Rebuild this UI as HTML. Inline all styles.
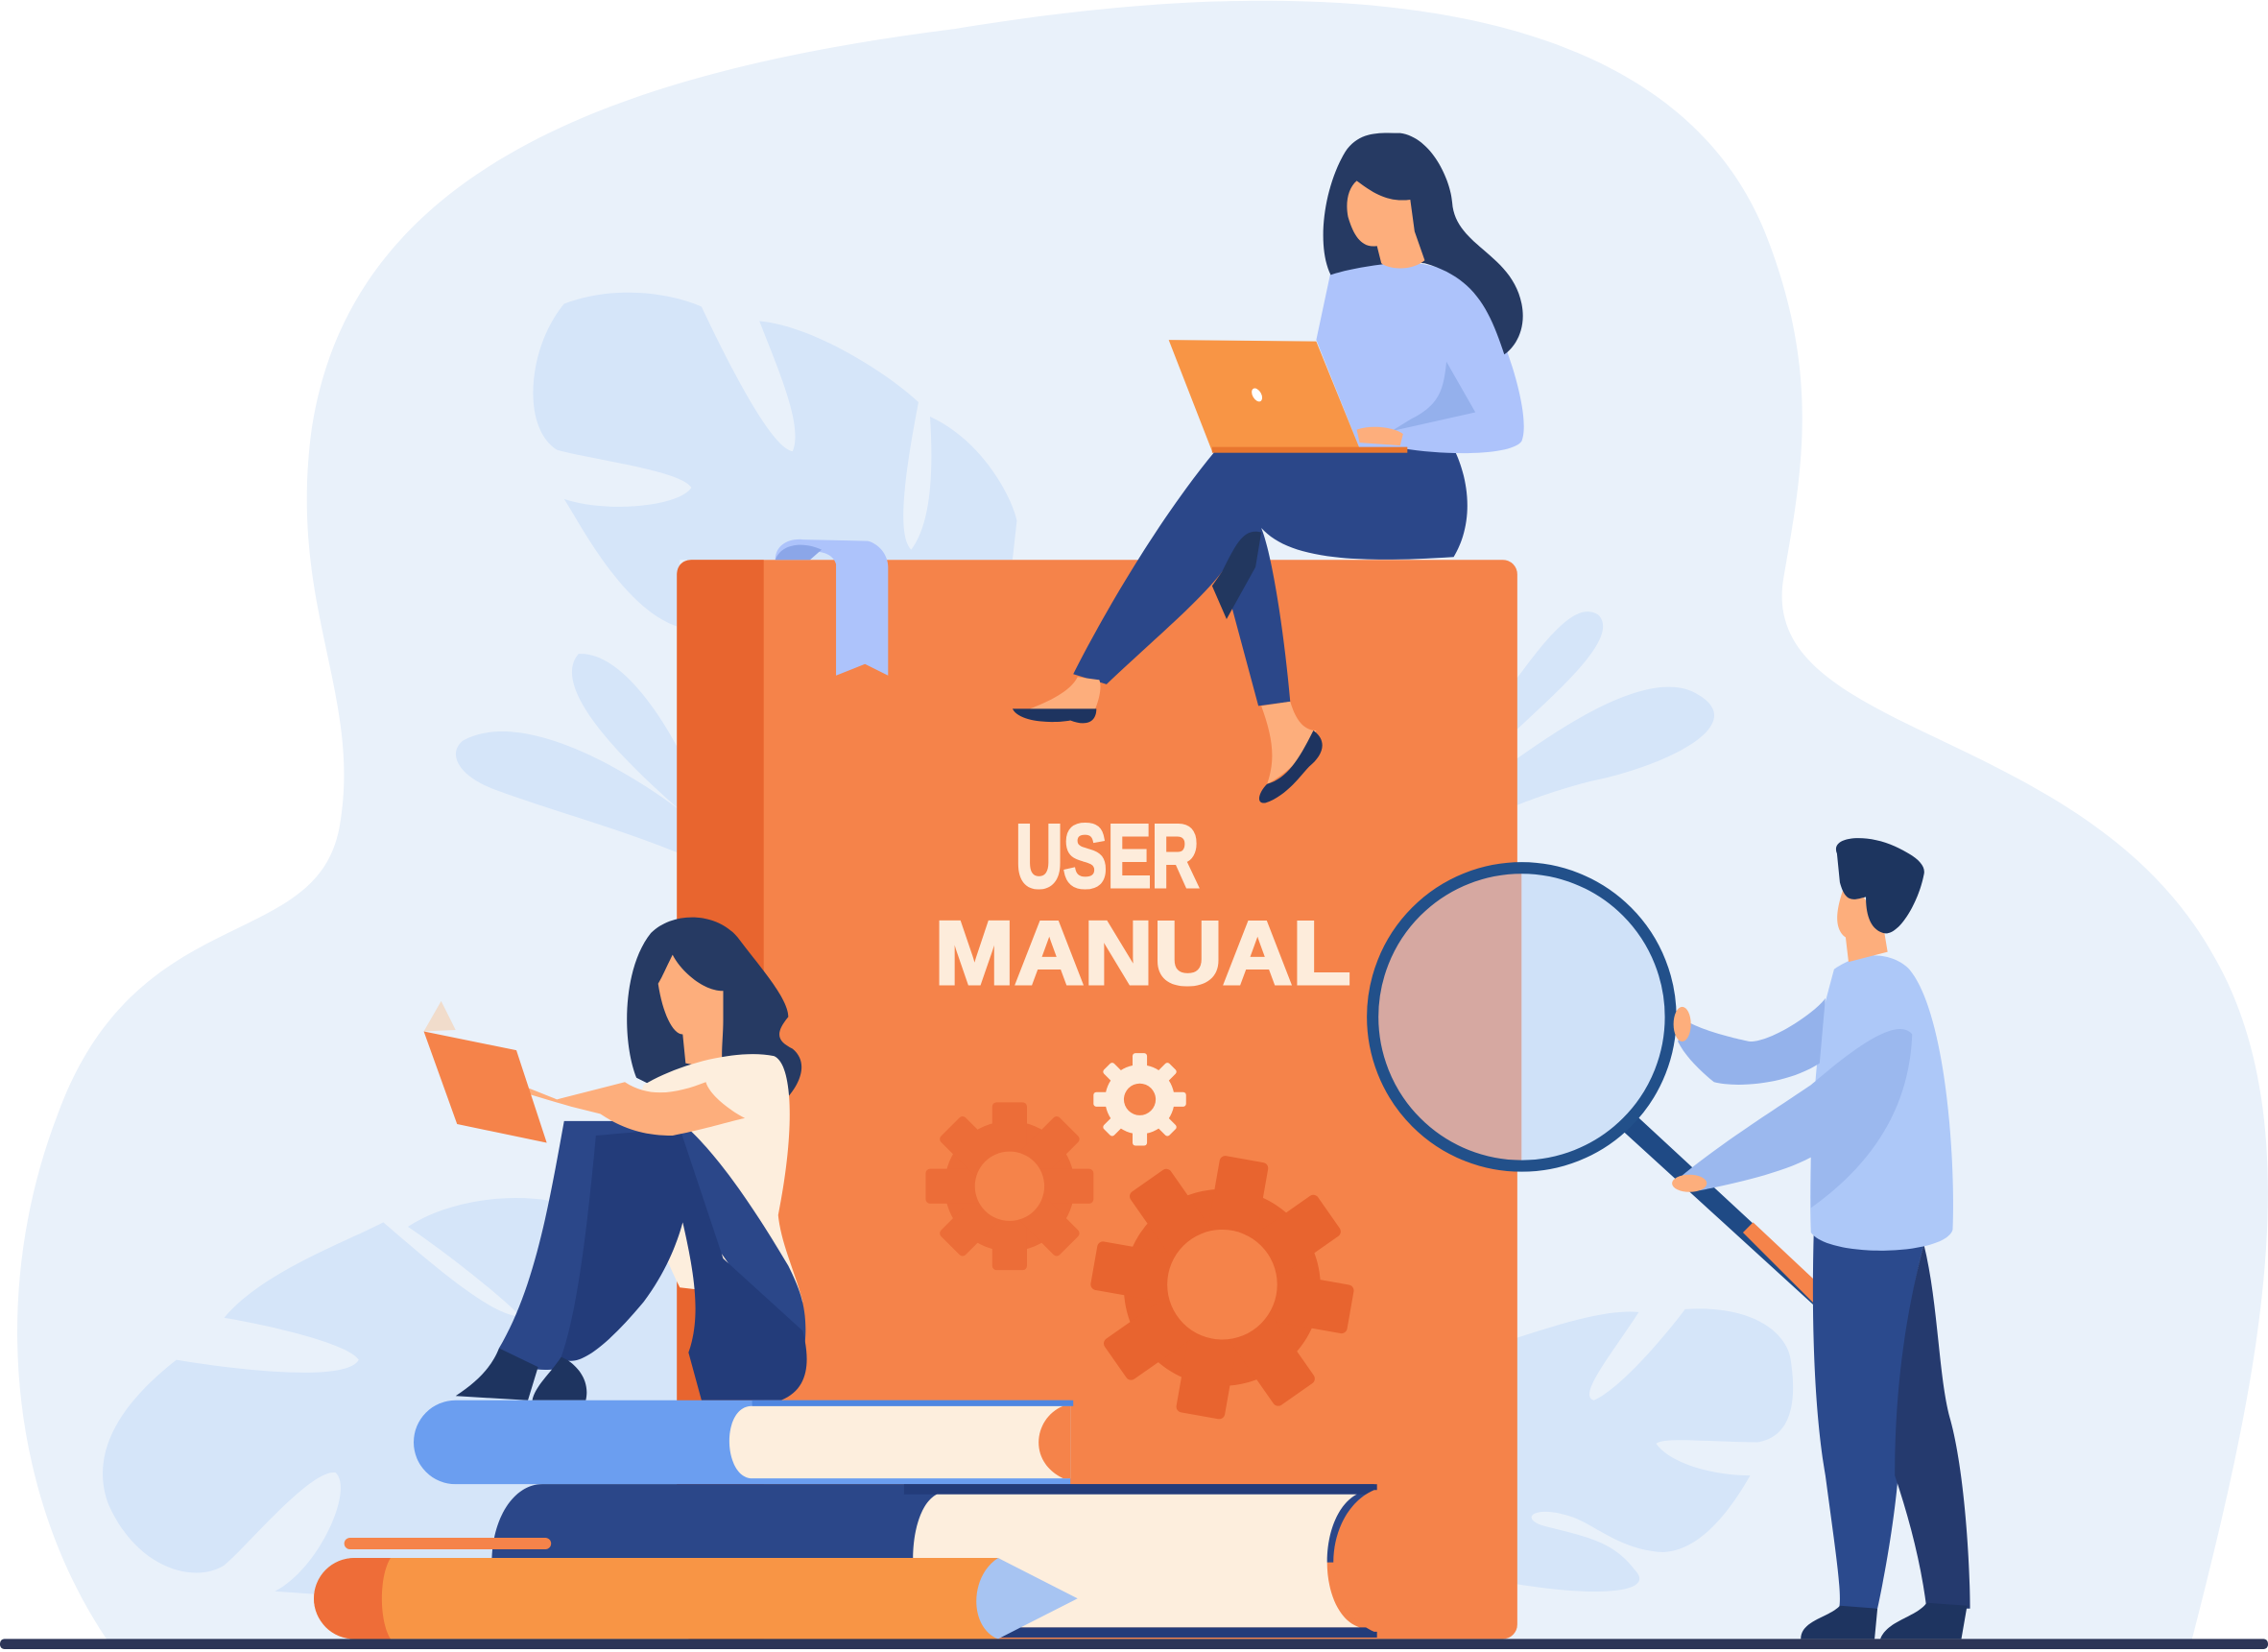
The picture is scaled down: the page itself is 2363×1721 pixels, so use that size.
<!DOCTYPE html>
<html><head><meta charset="utf-8"><style>html,body{margin:0;padding:0;background:#fff}svg{display:block}</style></head>
<body>
<svg width="2363" height="1721" viewBox="0 0 1568 1142" preserveAspectRatio="none" xmlns="http://www.w3.org/2000/svg">
<rect width="1568" height="1142" fill="#fff"/>
<path d="M75 1135 C10 1040 -10 900 40 770 C95 620 220 660 235 570 C250 480 200 420 215 300 C240 120 420 50 660 20 C900 -20 1150 -10 1220 160 C1260 260 1245 330 1233 400 C1215 510 1440 500 1530 660 C1600 780 1560 960 1515 1135 Z" fill="#e9f1fa"/>
<g fill="#d5e5f9">
<path d="M390 210 C430 195 470 205 485 212 C510 265 535 310 548 312 C555 295 540 260 525 222 C560 225 610 255 635 278 C625 330 620 370 630 380 C645 360 645 320 643 288 C680 305 700 345 703 360 L700 387 L470 387 L468 433 C430 420 400 360 390 345 C420 355 470 350 478 337 C470 325 410 318 385 311 C360 295 365 240 390 210Z"/>
<path d="M400 452 C430 450 460 500 470 520 L470 560 C430 525 380 475 400 452Z"/>
<path d="M320 512 C360 490 430 530 470 560 L470 590 C420 570 380 560 340 545 C315 535 310 520 320 512Z"/>
<path d="M1048 470 C1070 440 1090 415 1105 425 C1120 440 1080 475 1048 505Z"/>
<path d="M1048 525 C1090 495 1140 465 1170 478 C1215 500 1150 530 1100 540 C1080 545 1060 552 1048 557Z"/>
<path d="M265 845 C300 875 340 910 360 910 C340 890 300 860 282 848 C310 830 350 825 380 830 L470 840 L470 1120 L190 1100 C220 1085 245 1030 232 1018 C215 1015 170 1070 155 1082 C135 1095 95 1085 75 1040 C60 1000 90 965 122 940 C170 948 240 955 248 940 C240 928 180 915 155 911 C180 880 240 858 265 845Z"/>
<path d="M1048 925 C1080 915 1110 905 1133 907 C1115 935 1090 965 1102 968 C1120 960 1150 925 1165 905 C1210 902 1235 920 1238 940 C1245 985 1228 995 1215 997 C1185 997 1150 993 1145 998 C1155 1012 1185 1020 1210 1020 C1190 1055 1170 1072 1150 1073 C1120 1072 1100 1052 1085 1048 C1060 1040 1050 1050 1068 1055 C1095 1062 1115 1065 1130 1085 C1145 1100 1110 1105 1048 1095Z"/>
</g>
<rect x="468" y="387" width="581" height="746" rx="10" fill="#f5834a"/>
<path d="M478 387 L528 387 L528 1133 L478 1133 C472 1133 468 1128 468 1122 L468 397 C468 391 472 387 478 387Z" fill="#e8652f"/>
<path d="M536 387 C536 377 545 372 555 373 L600 374 C608 376 614 384 614 392 L614 467 L598 459 L578 467 L578 390 C575 380 560 378 536 387Z" fill="#adc3fb"/>
<path d="M536 387 C540 376 555 374 568 380 L560 387Z" fill="#8ba6e8"/>
<g fill="#fdecdb" stroke="#fdecdb" stroke-width="2" font-family="Liberation Sans, sans-serif" font-weight="bold">
<text x="702" y="613" font-size="62" textLength="127" lengthAdjust="spacingAndGlyphs">USER</text>
<text x="646" y="680" font-size="62" textLength="288" lengthAdjust="spacingAndGlyphs">MANUAL</text>
</g>
<g>
<circle cx="788" cy="760" r="24" fill="#fdecdb"/>
<g fill="#fdecdb"><rect x="783" y="728" width="10" height="64" rx="2"/><rect x="783" y="728" width="10" height="64" rx="2" transform="rotate(45 788 760)"/><rect x="783" y="728" width="10" height="64" rx="2" transform="rotate(90 788 760)"/><rect x="783" y="728" width="10" height="64" rx="2" transform="rotate(135 788 760)"/></g>
<circle cx="788" cy="760" r="11" fill="#f5834a"/>
<circle cx="698" cy="820" r="45" fill="#ec6d38"/>
<g fill="#ec6d38"><rect x="686" y="762" width="24" height="116" rx="3"/><rect x="686" y="762" width="24" height="116" rx="3" transform="rotate(45 698 820)"/><rect x="686" y="762" width="24" height="116" rx="3" transform="rotate(90 698 820)"/><rect x="686" y="762" width="24" height="116" rx="3" transform="rotate(135 698 820)"/></g>
<circle cx="698" cy="820" r="24" fill="#f5834a"/>
<circle cx="845" cy="890" r="68" fill="#e8642f"/>
<g fill="#e8642f"><rect x="828" y="800" width="34" height="180" rx="4" transform="rotate(10 845 890)"/><rect x="828" y="800" width="34" height="180" rx="4" transform="rotate(55 845 890)"/><rect x="828" y="800" width="34" height="180" rx="4" transform="rotate(100 845 890)"/><rect x="828" y="800" width="34" height="180" rx="4" transform="rotate(145 845 890)"/></g>
<circle cx="845" cy="888" r="38" fill="#f5834a"/>
</g>
<path d="M1120 780 L1268 915 L1276 905 L1130 770Z" fill="#1f4a85"/>
<path d="M1205 852 L1268 915 L1276 905 L1212 845Z" fill="#f5834a"/>
<path d="M1052 603 A100 100 0 0 0 1052 803Z" fill="#d6a8a1"/>
<path d="M1052 603 A100 100 0 0 1 1052 803Z" fill="#cfe1f8"/>
<circle cx="1052" cy="703" r="103" fill="none" stroke="#22508a" stroke-width="8"/>
<path d="M1254 850 C1252 920 1255 980 1262 1020 C1270 1080 1275 1110 1270 1115 L1298 1112 C1305 1080 1315 1020 1313 990 C1310 960 1320 900 1330 860Z" fill="#2b4a8d"/>
<path d="M1330 860 C1340 900 1340 950 1348 980 C1358 1015 1362 1080 1362 1112 L1332 1112 C1328 1080 1320 1050 1310 1020 C1310 950 1320 900 1330 860Z" fill="#253a6e"/>
<path d="M1245 1133 C1245 1120 1265 1118 1272 1110 L1298 1112 L1296 1133Z M1300 1133 C1305 1120 1325 1118 1332 1108 L1360 1110 L1356 1133Z" fill="#1e3460"/>
<path d="M1268 670 C1290 655 1310 660 1320 670 C1345 700 1352 800 1350 850 C1345 868 1265 870 1252 852 C1250 800 1255 740 1260 700Z" fill="#adc8f8"/>
<path d="M1165 705 C1175 712 1200 718 1210 720 C1225 720 1255 700 1262 690 L1258 735 C1235 750 1200 752 1185 748 C1175 740 1165 730 1160 720Z" fill="#94b2eb"/>
<path d="M1160 815 C1190 790 1230 765 1252 750 C1270 735 1310 700 1322 715 C1320 770 1290 808 1252 835 L1252 800 C1230 812 1190 820 1175 823Z" fill="#9bb8ee"/>
<ellipse cx="1168" cy="818" rx="12" ry="6" fill="#fdae7c"/><ellipse cx="1163" cy="708" rx="6" ry="12" fill="#fdae7c"/>
<path d="M1278 605 C1272 620 1265 640 1276 648 L1278 665 L1305 658 L1302 640Z" fill="#fdae7c"/>
<path d="M1270 590 C1265 578 1290 576 1310 585 C1325 592 1332 598 1330 605 C1326 625 1312 648 1302 645 C1292 642 1290 630 1290 620 C1282 622 1276 625 1272 610Z" fill="#1d355f"/>
<path d="M840 312 C800 360 760 430 742 466 L765 473 C800 440 830 415 845 395 L870 488 L892 485 C888 440 880 385 872 365 C890 385 930 390 1005 385 C1020 360 1015 330 1005 310Z" fill="#2b4789"/>
<path d="M838 405 L845 395 C855 375 860 365 872 368 L868 392 L848 428Z" fill="#22375f"/>
<path d="M745 468 C740 478 725 485 712 490 L755 495 C760 485 762 475 760 470Z" fill="#fdae7c"/>
<path d="M700 490 C705 500 730 500 740 498 C750 502 758 500 758 490 L712 490Z" fill="#1e3460"/>
<path d="M872 488 C880 510 882 525 876 542 C890 535 905 520 910 505 C900 505 895 495 892 485Z" fill="#fdae7c"/>
<path d="M876 542 C870 548 868 556 875 555 C890 550 900 535 905 530 C915 522 918 512 908 505 C898 525 890 538 876 542Z" fill="#1e3460"/>
<path d="M920 188 C950 175 995 180 1018 195 C1035 215 1060 285 1052 305 C1045 315 1000 315 970 310 L940 310 L910 235Z" fill="#adc3fb"/>
<path d="M1000 250 C998 270 995 280 975 290 L962 298 L1020 285 Z" fill="#94b0ec"/>
<path d="M938 297 C950 293 965 296 970 300 L968 308 L940 306Z" fill="#fdae7c"/>
<path d="M808 235 L910 236 L940 310 L838 312Z" fill="#f89545"/>
<rect x="838" y="309" width="135" height="4" fill="#e8762f"/>
<ellipse cx="869" cy="273" rx="3" ry="5" fill="#fff" transform="rotate(-30 869 273)"/>
<path d="M920 190 C910 170 915 130 930 105 C940 90 955 92 968 92 C990 95 1003 125 1004 140 C1006 170 1045 175 1052 210 C1056 230 1045 242 1040 245 C1030 215 1020 192 985 182 C965 180 935 185 920 190Z" fill="#263a63"/>
<path d="M938 125 C950 134 960 140 975 138 L978 160 L985 180 C975 188 960 186 955 182 L952 170 C940 172 935 160 932 150 C930 140 932 130 938 125Z" fill="#fdae7c"/>
<path d="M440 745 C430 720 430 670 450 645 C465 630 495 630 510 648 C525 668 545 690 545 703 C535 715 538 720 548 725 C560 735 552 750 545 758 L470 760Z" fill="#263a63"/>
<path d="M455 680 C458 700 465 715 472 715 L474 735 L500 740 C498 730 500 718 500 705 L500 685 C485 685 470 670 465 660 C460 670 458 675 455 680Z" fill="#fdae7c"/>
<path d="M445 750 C470 735 510 725 535 730 C548 735 550 780 538 840 C540 860 550 880 555 900 L470 890 C450 850 430 790 445 750Z" fill="#fdeedd"/>
<path d="M390 775 C380 830 370 890 345 932 C350 945 375 950 390 945 C420 900 440 850 460 820 C490 850 515 890 535 920 C540 940 545 960 555 940 C560 910 555 895 545 875 C530 850 500 800 470 775 Z" fill="#2b4789"/>
<path d="M412 785 C405 860 398 910 388 938 C398 948 420 930 445 900 C460 880 468 860 472 845 C480 880 485 910 476 935 L485 968 L540 968 C560 960 560 940 555 920 L500 870 L470 780Z" fill="#233c7a"/>
<path d="M345 932 C340 945 330 955 315 965 L365 968 L372 945Z M388 938 C380 950 370 958 368 968 L405 968 C408 955 400 945 392 940Z" fill="#1e3460"/>
<path d="M310 740 C340 748 370 758 395 765 L415 770 C430 780 445 785 465 785 C490 780 505 775 515 773 C500 765 490 755 488 748 C470 755 450 760 432 748 L385 760 C365 752 340 742 320 735Z" fill="#fdae7c"/>
<path d="M293 713 L357 726 L378 790 L316 777Z" fill="#f5834a"/>
<path d="M293 713 L305 692 L315 712Z" fill="#f1dccb"/>
<path d="M315 968 L740 968 L740 1026 L315 1026 A29 29 0 0 1 315 968Z" fill="#6b9ef0"/>
<path d="M520 972 L740 972 L740 1022 L520 1022 C500 1022 498 972 520 972Z" fill="#fdeedd"/>
<path d="M735 972 C715 980 710 1010 735 1022 L740 1022 L740 972Z" fill="#f5834a"/>
<rect x="520" y="968" width="222" height="4" fill="#4f86e0"/>
<path d="M375 1026 L950 1026 L950 1080 L340 1080 C340 1050 355 1026 375 1026Z" fill="#2b4789"/>
<path d="M650 1032 L940 1032 C910 1045 910 1115 940 1125 L650 1125 C625 1115 625 1040 650 1032Z" fill="#fdeedd"/>
<rect x="625" y="1026" width="327" height="7" fill="#233c7a"/>
<rect x="625" y="1125" width="327" height="7" fill="#233c7a"/>
<path d="M950 1030 C915 1045 910 1110 950 1128 L1000 1128 L1000 1030Z" fill="#f5834a"/>
<path d="M245 1077 L690 1077 L740 1105 L690 1133 L245 1133 A28 28 0 0 1 245 1077Z" fill="#f89545"/>
<path d="M245 1077 L270 1077 C262 1090 262 1120 270 1133 L245 1133 A28 28 0 0 1 245 1077Z" fill="#ee6d38"/>
<path d="M690 1077 C670 1090 670 1125 690 1133 L745 1105Z" fill="#a7c4f2"/>
<rect x="238" y="1063" width="143" height="8" rx="4" fill="#f5834a"/>
<rect x="0" y="1133" width="1568" height="7" rx="3" fill="#2c3557"/>
</svg>
</body></html>
